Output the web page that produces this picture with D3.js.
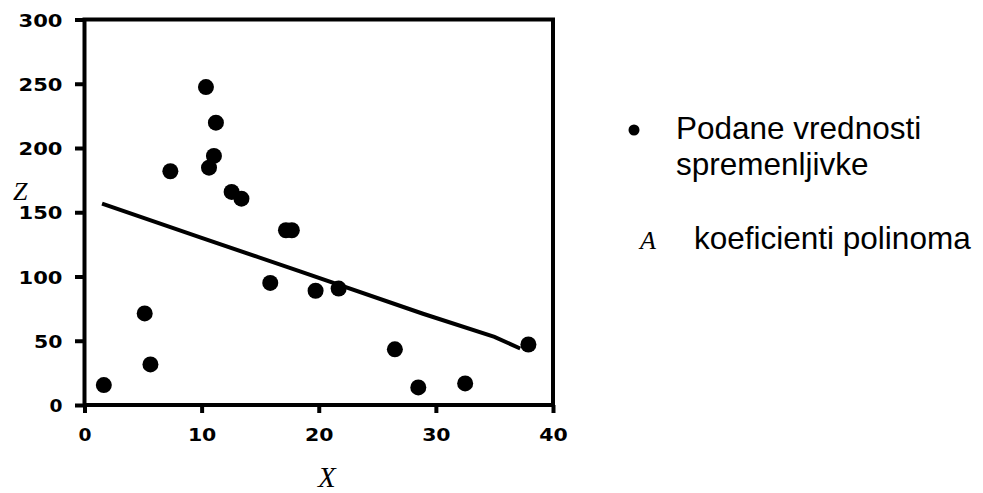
<!DOCTYPE html>
<html>
<head>
<meta charset="utf-8">
<script src="https://cdn.jsdelivr.net/npm/d3@7"></script>
<style>
  body { margin: 0; background: #fff; }
  .tick text { font-family: "DejaVu Sans", sans-serif; font-weight: bold; }
</style>
</head>
<body>
<div id="chart_area"></div>
<script>

// measured values (X, Z)
var pointX = [1.65, 5.14, 5.63, 7.33, 10.37, 10.63, 11.05, 11.22, 12.56, 13.4, 15.86, 17.2, 17.7, 19.73, 21.7, 26.5, 28.5, 32.5, 37.9];
var pointZ = [15.5, 71.3, 31.6, 181.9, 247.4, 184.7, 193.8, 219.7, 165.8, 160.6, 95, 136, 136, 88.9, 90.6, 43.3, 13.7, 16.8, 47.1];

// fitted polynomial curve
var fitX = [1.5, 10, 18.4, 28.9, 35, 37.2];
var fitZ = [156.7, 130, 104, 71, 53, 44];

var xTicks = [0, 10, 20, 30, 40];
var zTicks = [0, 50, 100, 150, 200, 250, 300];

var legendLines = ["Podane vrednosti", "spremenljivke"];
var legendCoef = "koeficienti polinoma";

var frame_width = 983;
var frame_height = 493;
var margin = {top: 19.5, left: 84.5, right: 983 - 553, bottom: 493 - 405};
var canvas_width = frame_width - margin.left - margin.right;
var canvas_height = frame_height - margin.top - margin.bottom;

var frame = d3.select("#chart_area").append("svg")
    .attr("width", frame_width)
    .attr("height", frame_height);

var canvas = frame.append("g")
    .attr("transform", "translate(" + margin.left + "," + margin.top + ")");

var xScale = d3.scaleLinear().domain([0, 40]).range([0, canvas_width]);
var yScale = d3.scaleLinear().domain([0, 300]).range([canvas_height, 0]);

var xAxis = d3.axisBottom(xScale).tickValues(xTicks).tickSize(8).tickSizeOuter(0);
var yAxis = d3.axisLeft(yScale).tickValues(zTicks).tickSize(9.5).tickSizeOuter(0);

var gx = canvas.append("g")
    .attr("transform", "translate(0," + canvas_height + ")")
    .call(xAxis);
var gy = canvas.append("g").call(yAxis);

[gx, gy].forEach(function (g) {
  g.select(".domain").remove();
  g.selectAll(".tick line").attr("stroke", "#000").attr("stroke-width", 4);
  g.selectAll(".tick text")
    .attr("fill", "#000")
    .style("font-size", "18px")
    .attr("textLength", function (d) { return String(d).length * 15.5 - 2.5; })
    .attr("lengthAdjust", "spacingAndGlyphs");
});
gx.selectAll(".tick text").attr("y", 36).attr("dy", 0);
gy.selectAll(".tick text").attr("x", -22).attr("dy", 6.5);

// box round the plot
canvas.append("rect")
    .attr("width", canvas_width)
    .attr("height", canvas_height)
    .attr("fill", "none")
    .attr("stroke", "#000")
    .attr("stroke-width", 4);

// fit line
var line = d3.line()
    .x(function (d, i) { return xScale(fitX[i]); })
    .y(function (d, i) { return yScale(fitZ[i]); });

canvas.append("path")
    .datum(fitX)
    .attr("d", line)
    .attr("fill", "none")
    .attr("stroke", "#000")
    .attr("stroke-width", 4);

// data points
canvas.selectAll(".dot")
    .data(pointX)
    .enter().append("circle")
    .attr("class", "dot")
    .attr("cx", function (d) { return xScale(d); })
    .attr("cy", function (d, i) { return yScale(pointZ[i]); })
    .attr("r", 8)
    .attr("fill", "#000");

// axis titles
frame.append("text")
    .attr("x", 13).attr("y", 200)
    .style("font-family", "'Liberation Serif', serif")
    .style("font-style", "italic")
    .style("font-size", "26px")
    .text("Z");

frame.append("text")
    .attr("x", 318).attr("y", 487)
    .style("font-family", "'Liberation Serif', serif")
    .style("font-style", "italic")
    .style("font-size", "29px")
    .text("X");

// legend
var legend = frame.append("g");

legend.append("circle")
    .attr("cx", 634).attr("cy", 130).attr("r", 5.5)
    .attr("fill", "#000");

legend.selectAll(".leg")
    .data(legendLines)
    .enter().append("text")
    .attr("class", "leg")
    .attr("x", 676)
    .attr("y", function (d, i) { return 139 + i * 36; })
    .style("font-family", "'Liberation Sans', Arial, sans-serif")
    .style("font-size", "31.5px")
    .text(function (d) { return d; });

legend.append("text")
    .attr("x", 640).attr("y", 249)
    .style("font-family", "'Liberation Serif', serif")
    .style("font-style", "italic")
    .style("font-size", "26px")
    .text("A");

legend.append("text")
    .attr("x", 694).attr("y", 249)
    .style("font-family", "'Liberation Sans', Arial, sans-serif")
    .style("font-size", "31.5px")
    .text(legendCoef);

</script>
</body>
</html>
